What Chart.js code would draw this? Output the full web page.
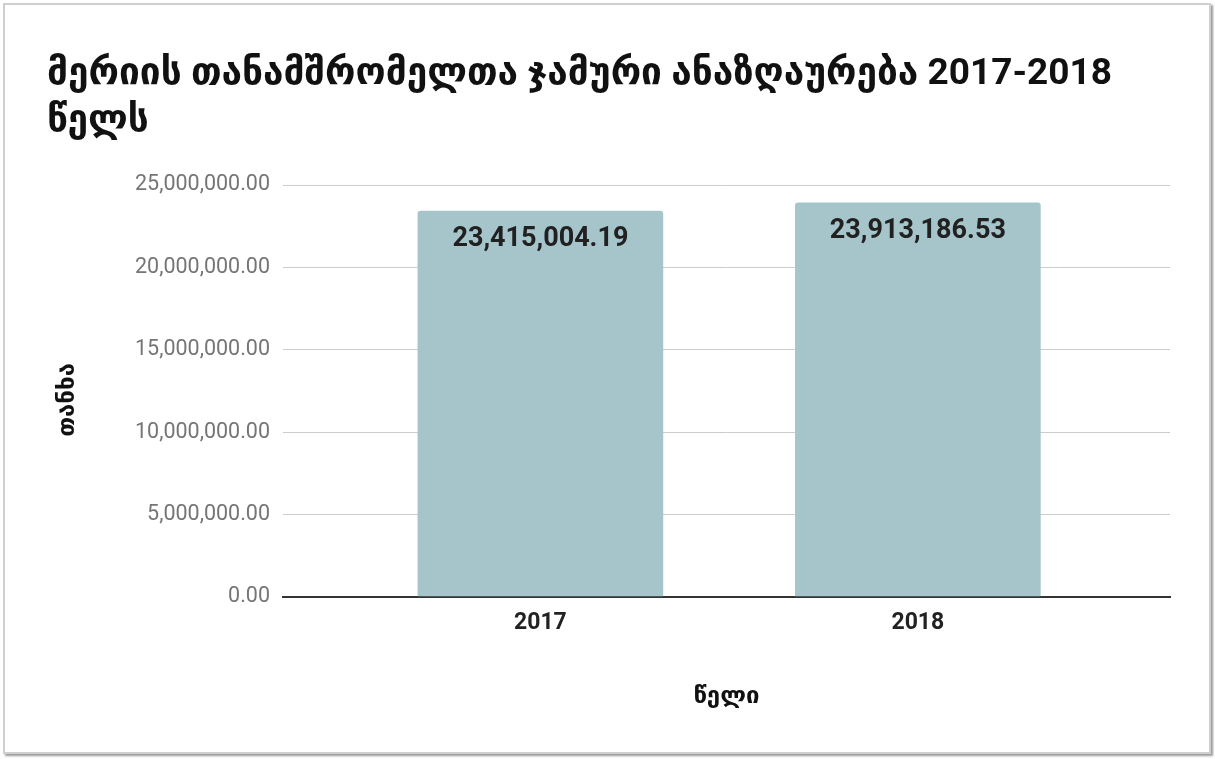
<!DOCTYPE html>
<html>
<head>
<meta charset="utf-8">
<script src="https://cdn.jsdelivr.net/npm/chart.js@4.4.1/dist/chart.umd.min.js"></script>
<style>
  html, body { margin: 0; padding: 0; background: #ffffff; width: 1215px; height: 759px; overflow: hidden; }
  #frame { position: absolute; left: 3px; top: 3px; width: 1204px; height: 747px; border: 2px solid #cfcfcf; box-shadow: 2px 2px 2px #9a9a9a; background: #fff; }
  #c { position: absolute; left: 0; top: 0; }
</style>
</head>
<body>
<div id="frame"></div>
<canvas id="c" width="1215" height="759"></canvas>
<script>
// ---- data ----
const titleLines = ['მერიის თანამშრომელთა ჯამური ანაზღაურება 2017-2018', 'წელს'];
const years = [2017, 2018];
const totals = [23415004.19, 23913186.53];
const yTicks = [0, 5000000, 10000000, 15000000, 20000000, 25000000];
const xAxisTitle = 'წელი';
const yAxisTitle = 'თანხა';

const fmt = v => Number(v).toLocaleString('en-US', { minimumFractionDigits: 2, maximumFractionDigits: 2 });
const FONT = "Roboto, 'DejaVu Sans', sans-serif";

const valueLabels = {
  id: 'valueLabels',
  afterDatasetsDraw(chart) {
    const ctx = chart.ctx;
    const meta = chart.getDatasetMeta(0);
    ctx.save();
    ctx.font = "bold 27px " + FONT;
    ctx.fillStyle = '#212121';
    ctx.textAlign = 'center';
    ctx.textBaseline = 'alphabetic';
    meta.data.forEach((bar, i) => {
      ctx.fillText(fmt(totals[i]), bar.x, bar.y + 35);
    });
    ctx.restore();
  }
};

new Chart(document.getElementById('c'), {
  type: 'bar',
  data: {
    datasets: [{
      data: years.map((y, i) => ({ x: y, y: totals[i] })),
      backgroundColor: '#a6c5ca',
      borderRadius: { topLeft: 3, topRight: 3, bottomLeft: 0, bottomRight: 0 },
      borderSkipped: 'bottom',
      barThickness: 245
    }]
  },
  options: {
    responsive: false,
    animation: false,
    layout: { padding: { left: 47, right: 45, top: 0, bottom: 32 } },
    plugins: {
      legend: { display: false },
      tooltip: { enabled: false },
      title: {
        display: true,
        text: titleLines,
        align: 'start',
        color: '#111111',
        font: { family: FONT, size: 37, weight: 'bold', lineHeight: '47px' },
        padding: { top: 51, bottom: 40 }
      }
    },
    scales: {
      x: {
        type: 'linear',
        offset: false,
        bounds: 'data',
        min: 2016.318,
        max: 2018.668,
        afterBuildTicks(scale) { scale.ticks = years.map(v => ({ value: v })); },
        afterFit(scale) { scale.height = 130; },
        grid: { display: false, drawTicks: false, offset: false },
        border: { display: true, color: '#333333', width: 2 },
        ticks: {
          padding: 12,
          color: '#222222',
          font: { family: FONT, size: 23, weight: 'bold' },
          callback: v => String(v)
        },
        title: {
          display: true,
          text: xAxisTitle,
          color: '#111111',
          font: { family: FONT, size: 24, weight: 'bold' },
          padding: { top: 0, bottom: 16 }
        }
      },
      y: {
        min: 0,
        max: 25000000,
        afterBuildTicks(scale) { scale.ticks = yTicks.map(v => ({ value: v })); },
        afterFit(scale) { scale.width = 236; },
        grid: {
          drawTicks: false,
          color: c => c.tick && c.tick.value === 0 ? '#333333' : '#cccccc',
          lineWidth: c => c.tick && c.tick.value === 0 ? 2 : 1
        },
        border: { display: false },
        ticks: {
          padding: 13,
          color: '#757575',
          font: { family: FONT, size: 21.5 },
          callback: v => fmt(v)
        },
        title: {
          display: true,
          text: yAxisTitle + '   ',
          color: '#111111',
          font: { family: FONT, size: 24, weight: 'bold' },
          padding: { top: 7, bottom: 0 }
        }
      }
    }
  },
  plugins: [valueLabels]
});
</script>
</body>
</html>
